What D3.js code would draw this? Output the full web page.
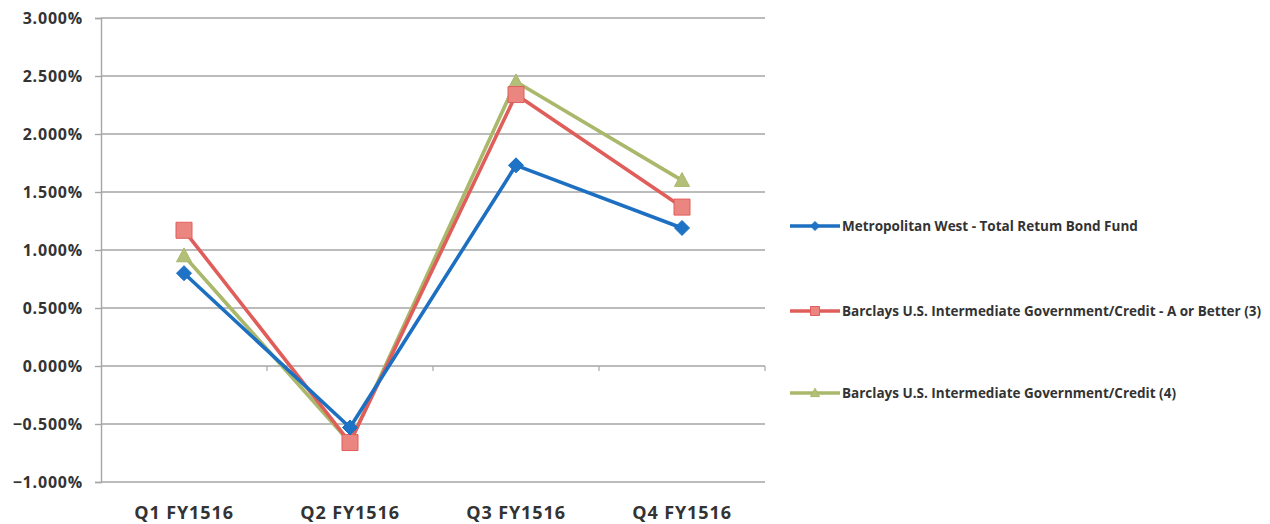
<!DOCTYPE html>
<html>
<head>
<meta charset="utf-8">
<script src="https://cdn.jsdelivr.net/npm/d3@7"></script>
<style>
  html, body { margin: 0; padding: 0; background: #fff; }
  svg text { font-family: "Open Sans", "DejaVu Sans", sans-serif; }
</style>
</head>
<body>
<svg id="chart" width="1270" height="524"></svg>
<script>
// Quarterly returns (percent)
const quarters = ["Q1 FY1516", "Q2 FY1516", "Q3 FY1516", "Q4 FY1516"];
const metWest = [0.80, -0.53, 1.73, 1.19];
const barclaysAorBetter = [1.17, -0.66, 2.34, 1.37];
const barclaysGovCredit = [0.95, -0.66, 2.45, 1.60];
const yTicks = [-1, -0.5, 0, 0.5, 1, 1.5, 2, 2.5, 3];

const seriesNames = [
  "Metropolitan West - Total Retum Bond Fund",
  "Barclays U.S. Intermediate Government/Credit - A or Better (3)",
  "Barclays U.S. Intermediate Government/Credit (4)"
];

const series = [
  { name: seriesNames[0], values: metWest, color: "#1c6fc1", fill: "#1f73c6", marker: "diamond" },
  { name: seriesNames[1], values: barclaysAorBetter, color: "#e05e5a", fill: "#eb8580", marker: "square" },
  { name: seriesNames[2], values: barclaysGovCredit, color: "#a9b86a", fill: "#b3bf78", marker: "triangle" }
];

const svg = d3.select("#chart");
const plot = { left: 101, right: 765, top: 18, bottom: 482 };

const x = d3.scaleBand().domain(quarters).range([plot.left, plot.right]);
const y = d3.scaleLinear().domain([-1, 3]).range([plot.bottom, plot.top]);

// horizontal gridlines
svg.append("g").selectAll("line").data(yTicks).join("line")
  .attr("x1", plot.left).attr("x2", plot.right)
  .attr("y1", d => y(d)).attr("y2", d => y(d))
  .attr("stroke", "#a6a6a6").attr("stroke-width", 1.4);

// value axis
const yAxis = d3.axisLeft(y).tickValues(yTicks)
  .tickFormat(d => d3.format(".3f")(d) + "%").tickSize(6).tickPadding(12);
const gy = svg.append("g").attr("transform", `translate(${plot.left},0)`).call(yAxis);
gy.select(".domain").attr("stroke", "#a6a6a6").attr("stroke-width", 1.4);
gy.selectAll(".tick line").attr("stroke", "#a6a6a6").attr("stroke-width", 1.4);
gy.selectAll(".tick text").attr("font-size", 16).attr("font-weight", "bold")
  .attr("letter-spacing", 0.8).attr("fill", "#333");

// category axis crossing at zero, labels below the plot
const xAxis = d3.axisBottom(x).tickSize(0).tickPadding(0);
const gx = svg.append("g").attr("transform", `translate(0,${y(0)})`).call(xAxis);
gx.select(".domain").attr("stroke", "none");
gx.selectAll(".tick text")
  .attr("y", 519 - y(0)).attr("dy", 0)
  .attr("font-size", 18).attr("font-weight", "bold")
  .attr("letter-spacing", 0.9).attr("fill", "#333");
gx.append("g").selectAll("line").data(x.domain().slice(1).map(d => x(d)).concat([plot.right]))
  .join("line")
  .attr("x1", d => d).attr("x2", d => d).attr("y1", 0).attr("y2", 5)
  .attr("stroke", "#a6a6a6").attr("stroke-width", 1.2);

const cx = d => x(d) + x.bandwidth() / 2;

function markerPath(type, size) {
  const s = size / 2;
  if (type === "diamond") return `M0,${-s}L${s},0L0,${s}L${-s},0Z`;
  if (type === "square") return `M${-s},${-s}H${s}V${s}H${-s}Z`;
  return `M0,${-s * 1.05}L${s},${s * 0.8}L${-s},${s * 0.8}Z`;
}
const markerSize = { diamond: 15, square: 16, triangle: 15 };

const line = d3.line().x((d, i) => cx(quarters[i])).y(d => y(d));

// draw back to front so the fund line sits on top
[...series].reverse().forEach(s => {
  const g = svg.append("g");
  g.append("path").attr("d", line(s.values))
    .attr("fill", "none").attr("stroke", s.color).attr("stroke-width", 3.6)
    .attr("stroke-linejoin", "round");
  g.selectAll("path.m").data(s.values).join("path").attr("class", "m")
    .attr("transform", (d, i) => `translate(${cx(quarters[i])},${y(d)})`)
    .attr("d", markerPath(s.marker, markerSize[s.marker]))
    .attr("fill", s.fill).attr("stroke", s.color).attr("stroke-width", 1);
});

// legend
const legendY = [226, 311, 393];
const legend = svg.append("g");
series.forEach((s, i) => {
  const g = legend.append("g").attr("transform", `translate(790,${legendY[i]})`);
  g.append("line").attr("x1", 0).attr("x2", 50).attr("y1", 0).attr("y2", 0)
    .attr("stroke", s.color).attr("stroke-width", 3.6);
  g.append("path").attr("transform", "translate(25,0)")
    .attr("d", markerPath(s.marker, 9)).attr("fill", s.fill).attr("stroke", s.color);
  g.append("text").attr("x", 52).attr("y", 0).attr("dy", "0.35em")
    .attr("font-size", 13.5).attr("font-weight", "bold").attr("fill", "#333")
    .text(s.name);
});
</script>
</body>
</html>
